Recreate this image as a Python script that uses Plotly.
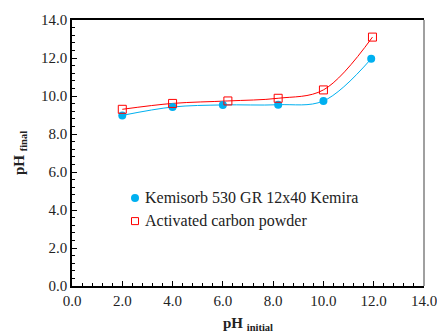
import plotly.graph_objects as go

# pH_initial vs pH_final for two sorbents
ph_initial_kemisorb = [2.0, 4.0, 6.0, 8.2, 10.0, 11.9]
ph_final_kemisorb = [8.98, 9.42, 9.53, 9.54, 9.74, 11.96]

ph_initial_powder = [2.0, 4.0, 6.2, 8.2, 10.0, 11.95]
ph_final_powder = [9.30, 9.61, 9.74, 9.88, 10.32, 13.1]

name_kemisorb = "Kemisorb 530 GR 12x40 Kemira"
name_powder = "Activated carbon powder"

blue = "#00B0F0"
red = "#FF0000"
font_family = "Liberation Serif, Times New Roman, serif"

fig = go.Figure()

# smoothed connecting curves
fig.add_trace(go.Scatter(x=ph_initial_kemisorb, y=ph_final_kemisorb, mode="lines",
                         line=dict(color=blue, width=1, shape="spline", smoothing=1.0),
                         showlegend=False, hoverinfo="skip"))
fig.add_trace(go.Scatter(x=ph_initial_powder, y=ph_final_powder, mode="lines",
                         line=dict(color=red, width=1, shape="spline", smoothing=1.0),
                         showlegend=False, hoverinfo="skip"))

# measured points
fig.add_trace(go.Scatter(x=ph_initial_kemisorb, y=ph_final_kemisorb, mode="markers",
                         name=name_kemisorb, showlegend=False,
                         marker=dict(symbol="circle", size=8, color=blue)))
fig.add_trace(go.Scatter(x=ph_initial_powder, y=ph_final_powder, mode="markers",
                         name=name_powder, showlegend=False,
                         marker=dict(symbol="square-open", size=8, color=red,
                                     line=dict(width=1, color=red))))

axis_common = dict(
    showgrid=False, zeroline=False, showline=True, linecolor="black", linewidth=1.5,
    ticks="inside", ticklen=5, tickwidth=1, tickcolor="black",
    tickformat=".1f", dtick=2, tick0=0, ticklabeloverflow="allow", automargin=False,
    tickfont=dict(family=font_family, size=15, color="#222"),
    minor=dict(ticks="inside", ticklen=3, tickwidth=1, tickcolor="black", dtick=0.4),
)

# compact legend: key symbols as pixel-sized shapes, labels as annotations
key_x = 0.179
text_x = 0.203
row_y = [0.331, 0.244]
legend_shapes = [
    dict(type="circle", xref="paper", yref="paper", xsizemode="pixel", ysizemode="pixel",
         xanchor=key_x, yanchor=row_y[0], x0=-4, x1=4, y0=-4, y1=4,
         fillcolor=blue, line=dict(color=blue, width=0)),
    dict(type="rect", xref="paper", yref="paper", xsizemode="pixel", ysizemode="pixel",
         xanchor=key_x, yanchor=row_y[1], x0=-3.5, x1=3.5, y0=-3.5, y1=3.5,
         fillcolor="rgba(0,0,0,0)", line=dict(color=red, width=1)),
]
legend_labels = [
    dict(text=name_kemisorb, xref="paper", yref="paper", x=text_x, y=row_y[0],
         xanchor="left", yanchor="middle", showarrow=False,
         font=dict(family=font_family, size=16, color="#222")),
    dict(text=name_powder, xref="paper", yref="paper", x=text_x, y=row_y[1],
         xanchor="left", yanchor="middle", showarrow=False,
         font=dict(family=font_family, size=16, color="#222")),
]

fig.update_layout(
    width=437, height=336,
    margin=dict(l=72, r=13, t=20, b=50, autoexpand=False),
    paper_bgcolor="white", plot_bgcolor="white",
    font=dict(family=font_family, color="#222"),
    showlegend=False,
    xaxis=dict(axis_common, range=[0, 14], mirror=True,
               title=dict(text="<b>pH <sub>initial</sub></b>",
                          font=dict(family=font_family, size=15, color="#222"),
                          standoff=10)),
    yaxis=dict(axis_common, range=[0, 14],
               title=dict(text="<b>pH <sub>final</sub></b>",
                          font=dict(family=font_family, size=15, color="#222"),
                          standoff=13)),
    shapes=[dict(type="line", xref="paper", yref="paper", x0=1, x1=1, y0=0, y1=1,
                 line=dict(color="#808080", width=1.5))] + legend_shapes,
    annotations=legend_labels,
)

fig.write_html("out.html")
